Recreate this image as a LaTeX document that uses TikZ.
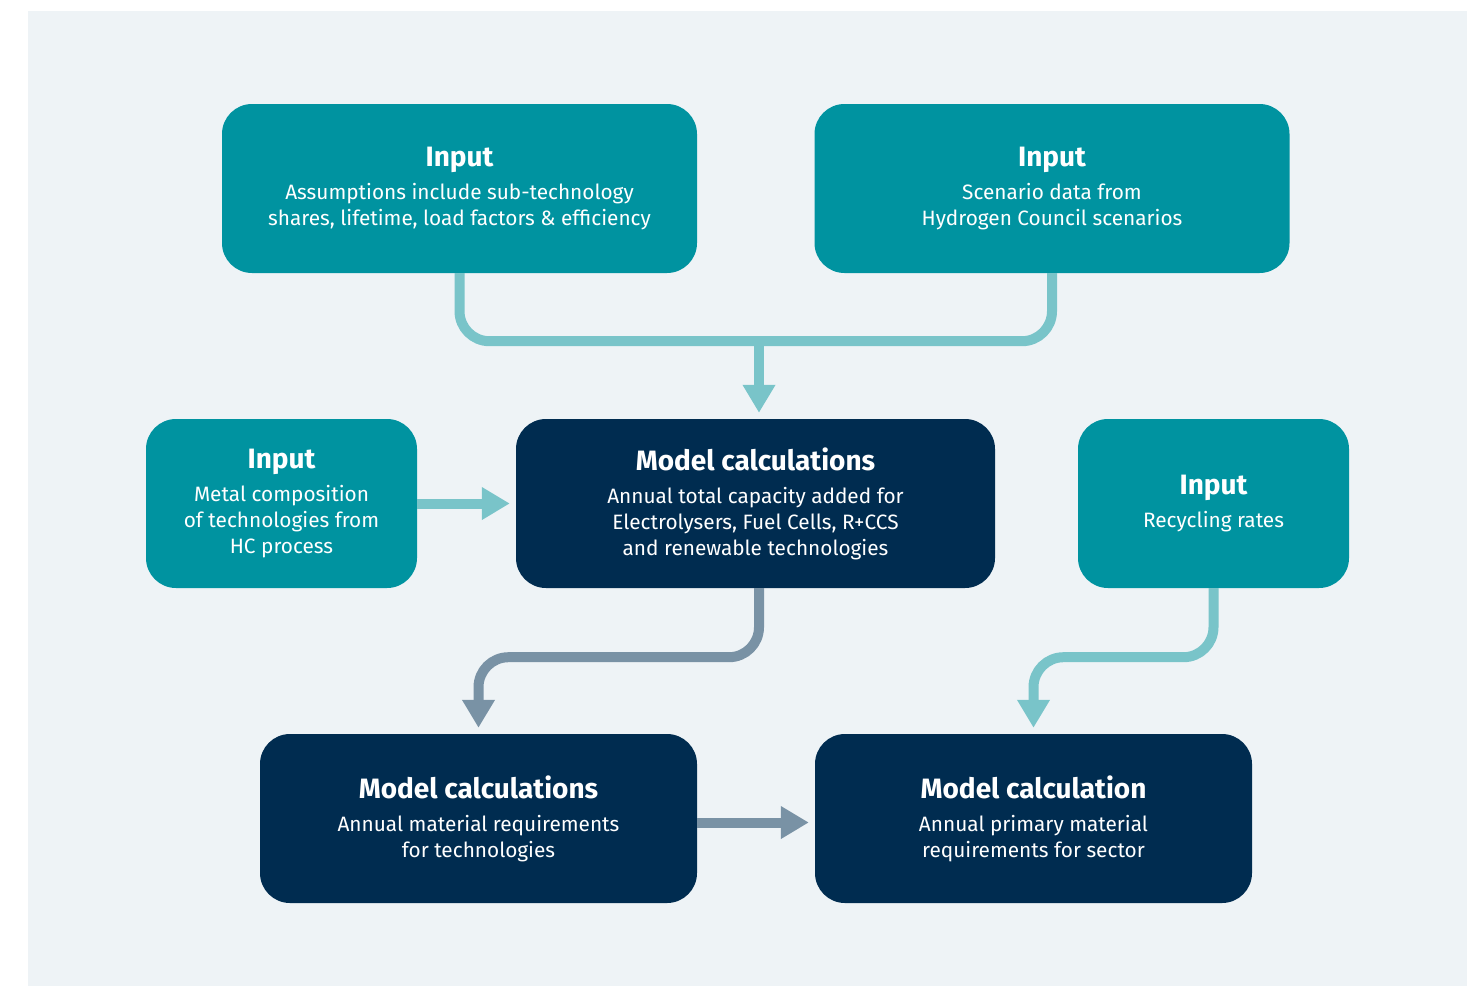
\documentclass[tikz,border=0pt]{standalone}
\usepackage{fontspec}
\setmainfont{Fira Sans}
\usetikzlibrary{arrows.meta}

\definecolor{boxteal}{RGB}{0,147,160}
\definecolor{boxnavy}{RGB}{0,44,80}
\definecolor{arrteal}{RGB}{121,196,201}
\definecolor{arrgrey}{RGB}{121,146,165}
\definecolor{backgr}{RGB}{238,243,246}

\newcommand\boxhead[1]{{\bfseries\fontsize{28}{28}\selectfont #1}\\[7pt]}

\begin{document}
\begin{tikzpicture}[x=1pt,y=-1pt]

\tikzset{box/.style = {shape=rectangle, rounded corners=30pt, inner sep=0pt,
    minimum height=169pt, text=white, align=center,
    font=\fontsize{20.8}{26}\selectfont}}
\tikzset{inputbox/.style = {box, fill=boxteal}}
\tikzset{modelbox/.style = {box, fill=boxnavy}}
\tikzset{link/.style = {line width=10pt, rounded corners=30pt}}
\tikzset{tealarrow/.style = {link, draw=arrteal, -{Triangle[width=31pt,length=28pt]}, shorten >=6pt}}
\tikzset{greyarrow/.style = {link, draw=arrgrey, -{Triangle[width=31pt,length=28pt]}, shorten >=6pt}}

\useasboundingbox (0,0) rectangle (1483,986);
\fill[backgr] (28,11) rectangle (1467,986);

%boxes
\node[inputbox, minimum width=475pt] (in1) at (459.5,188.5)
  {\boxhead{Input}Assumptions include sub-technology\\shares, lifetime, load factors \& efficiency};
\node[inputbox, minimum width=475pt] (in2) at (1052,188.5)
  {\boxhead{Input}Scenario data from\\Hydrogen Council scenarios};
\node[inputbox, minimum width=271pt] (in3) at (281.5,503.5)
  {\boxhead{Input}Metal composition\\of technologies from\\HC process};
\node[modelbox, minimum width=479pt] (mod1) at (755.5,503.5)
  {\boxhead{Model calculations}Annual total capacity added for\\Electrolysers, Fuel Cells, R+CCS\\and renewable technologies};
\node[inputbox, minimum width=271pt] (in4) at (1213.5,503.5)
  {\boxhead{Input}Recycling rates};
\node[modelbox, minimum width=437pt] (mod2) at (478.5,818.5)
  {\boxhead{Model calculations}Annual material requirements\\for technologies};
\node[modelbox, minimum width=437pt] (mod3) at (1033.5,818.5)
  {\boxhead{Model calculation}Annual primary material\\requirements for sector};

%edges
\coordinate (merge) at (759,341);
\draw[link, draw=arrteal] (in1.south) -- ++(0,68) -| (in2.south);
\draw[tealarrow] (merge) -- (merge |- mod1.north);
\draw[tealarrow] (in3.east) -- (mod1.west);
\draw[greyarrow] (mod1.south -| merge) -- ++(0,69) -| (mod2.north);
\draw[tealarrow] (in4.south) -- ++(0,69) -| (mod3.north);
\draw[greyarrow] ([yshift=-4pt]mod2.east) -- ([yshift=-4pt]mod3.west);

\end{tikzpicture}
\end{document}
